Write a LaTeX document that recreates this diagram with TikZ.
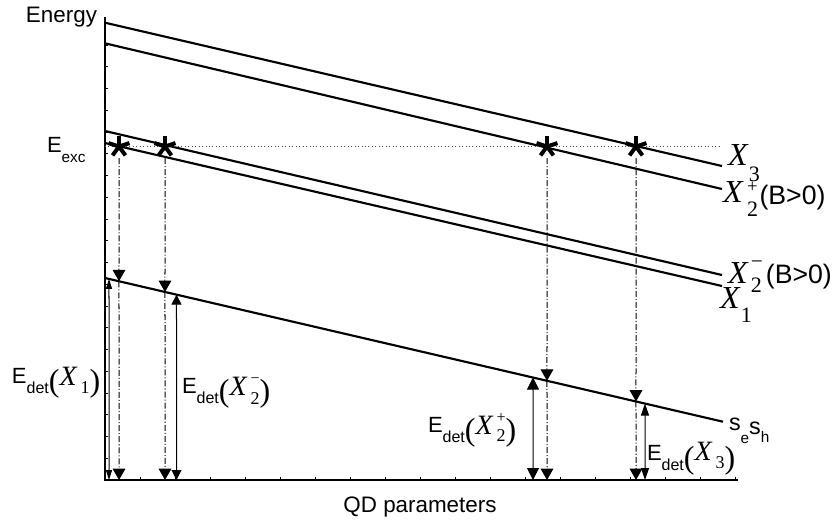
\documentclass[tikz,border=0pt]{standalone}
\usepackage{fontspec}
\setmainfont{Liberation Sans}
\newfontfamily\tms{Liberation Serif}
\usetikzlibrary{arrows.meta}
\newcommand{\fz}[1]{\fontsize{#1}{#1}\selectfont}
% E_det( X_#1^#2 ) ; #3 = lowering of X, #4 = lowering of subscript
\newcommand{\Edet}[4]{{\fz{16.5}E}\raisebox{-7.5pt}{\fz{12}det}{\tms\raisebox{-6pt}{\fz{24}(}\raisebox{-#3}{\fz{21}\itshape X}\hspace{3pt}\makebox[0pt][l]{\raisebox{7pt}{\fz{12}#2}}\raisebox{-#4}{\fz{13.5}#1}\raisebox{-6pt}{\fz{24})}}}
\begin{document}
\begin{tikzpicture}[x=0.75pt,y=-0.75pt,
  lvl/.style={line width=1.6pt},
  ax/.style={line width=1.5pt},
  tk/.style={line width=0.5pt},
  dd/.style={line width=0.75pt, dash pattern=on 4.5pt off 1.5pt on 0.8pt off 1.5pt},
  bigtip/.style={-{Triangle[width=9.5pt,length=8.5pt]}},
  arm/.style={line width=3pt},
  lab/.style={anchor=base west, inner sep=0pt, outer sep=0pt}]
\useasboundingbox (0,0) rectangle (835,526);
% axes
\coordinate (O) at (105,480);
\coordinate (Ytop) at (105,17);
\coordinate (Xend) at (738,480);
\draw[ax] (Ytop) -- (O) -- (Xend);
\foreach \k in {1,...,21} \draw[tk] (105,{480-21.75*\k}) -- ++(3,0);
\foreach \k in {1,...,18} \draw[tk] ({105+35*\k},480) -- ++(0,-3);
% levels
\coordinate (a0) at (105,22.7); \coordinate (a1) at (722,166);
\coordinate (b0) at (105,43.3); \coordinate (b1) at (722,189);
\coordinate (c0) at (105,131);  \coordinate (c1) at (722,275);
\coordinate (e0) at (105,143);  \coordinate (e1) at (722,286);
\coordinate (s0) at (105,278);  \coordinate (s1) at (723,421.7);
\draw[lvl] (a0) -- (a1);
\draw[lvl] (b0) -- (b1);
\draw[lvl] (c0) -- (c1);
\draw[lvl] (e0) -- (e1);
\draw[lvl] (s0) -- (s1);
% excitation energy
\coordinate (d0) at (105,146); \coordinate (d1) at (720,146);
\draw[dotted, line width=0.6pt, black!70] (d0) -- (d1);
% stars and detection arrows
\foreach \i/\cx in {1/119,2/165,3/547,4/636} {
  \coordinate (st\i) at (\cx,146.5);
  \foreach \a in {-90,-18,-162,54,126} \draw[arm] (st\i) -- ++(\a:11);
  \coordinate (sb\i) at (\cx,158);
  \coordinate (p\i) at (intersection of s0--s1 and {\cx,0}--{\cx,500});
  \coordinate (g\i) at (\cx,480);
  \draw[dd,bigtip] (sb\i) -- (p\i);
  \draw[dd,bigtip] (p\i) -- (g\i);
}
% E_det arrows
\foreach \i/\cx/\w/\l in {1/109/4.5pt/7.5pt,2/176.5/7.5pt/7.5pt,3/533/9pt/9pt,4/645/6pt/9pt} {
  \coordinate (q\i) at (intersection of s0--s1 and {\cx,0}--{\cx,500});
  \coordinate (h\i) at (\cx,480);
  \draw[line width=0.75pt,{Triangle[width=\w,length=\l]}-{Triangle[width=\w,length=\l]}] (q\i) -- (h\i);
}
% labels
\node[lab] (energy) at (26,22.7) {\fz{16.8}Energy};
\node[lab] (eexc) at (47,152) {\fz{16.5}E\raisebox{-7.5pt}{\fz{11.5}exc}};
\node[lab] (ed1) at (12,383) {\Edet{1}{}{1.5pt}{7.5pt}};
\node[lab] (ed2) at (182,393) {\Edet{2}{−}{1.5pt}{8.5pt}};
\node[lab] (ed3) at (428,432) {\Edet{2}{+}{1.5pt}{7pt}};
\node[lab] (ed4) at (647,460) {\Edet{3}{}{0pt}{6pt}};
\node[lab] (lX3) at (728,165) {\tms\fz{24}\itshape X\upshape\hspace{1pt}\raisebox{-12pt}{\fz{16.5}3}};
\node[lab] (lX2p) at (723,202) {\tms\fz{24}\itshape X\upshape\hspace{3.5pt}\makebox[0pt][l]{\raisebox{7pt}{\fz{14}+}}\raisebox{-11pt}{\fz{16.5}2}\rmfamily\hspace{1pt}\raisebox{-2pt}{\fz{20}(B>0)}};
\node[lab] (lX2m) at (728,283) {\tms\fz{24}\itshape X\upshape\hspace{2.5pt}\makebox[0pt][l]{\raisebox{11pt}{\fz{16}−}}\raisebox{-7pt}{\fz{16.5}2}\rmfamily\hspace{3pt}{\fz{20}(B>0)}};
\node[lab] (lX1) at (720,308) {\tms\fz{24}\itshape X\upshape\hspace{1pt}\raisebox{-10.5pt}{\fz{16.5}1}};
\node[lab] (sesh) at (729,430) {\fz{17.5}s\raisebox{-10pt}{\fz{11.5}e}\raisebox{-3pt}{s}\raisebox{-9pt}{\fz{11.5}h}};
\node[anchor=base, inner sep=0pt] (qd) at (420,512) {\fz{16.8}QD parameters};
\end{tikzpicture}
\end{document}
